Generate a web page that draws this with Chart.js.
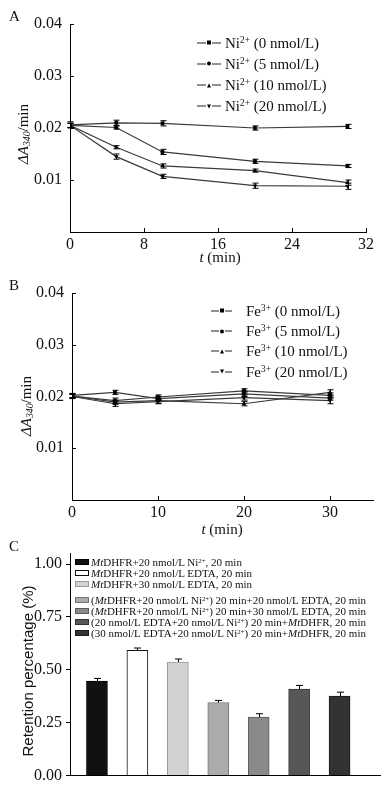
<!DOCTYPE html>
<html>
<head>
<meta charset="utf-8">
<script src="https://cdn.jsdelivr.net/npm/chart.js@4/dist/chart.umd.min.js"></script>
<style>
  body { margin: 0; width: 390px; height: 789px; position: relative; background: #fff; overflow: hidden;
         font-family: "Liberation Serif", serif; color: #111; }
  canvas { position: absolute; left: 0; }
  .txt { position: absolute; white-space: nowrap; line-height: 1; }
  .panel-label { font-size: 15px; }
  .xtitle { font-size: 15px; transform: translate(-50%, -50%); }
  .ytitle { font-size: 15px; transform: translate(-50%, -50%) rotate(-90deg); }
  .ytitle.sans { font-family: "Liberation Sans", sans-serif; font-size: 15px; }
  sup { font-size: 0.62em; vertical-align: 0.45em; line-height: 0; }
  sub { font-size: 0.65em; vertical-align: -0.25em; line-height: 0; }
  .legend { position: absolute; }
  .legend .row { position: absolute; left: 0; display: flex; align-items: center; white-space: nowrap; transform: translateY(-50%); }
  .sym { display: inline-flex; align-items: center; }
  .dash { display: inline-block; height: 1px; background: #222; }
  .mk { display: inline-block; margin: 0 1px; }
  .mk.rect { width: 4px; height: 4px; background: #000; }
  .mk.circle { width: 4px; height: 4px; border-radius: 50%; background: #000; }
  .mk.triangle { width: 0; height: 0; border-left: 2.5px solid transparent; border-right: 2.5px solid transparent; border-bottom: 4px solid #000; }
  .mk.tridown { width: 0; height: 0; border-left: 2.5px solid transparent; border-right: 2.5px solid transparent; border-top: 4px solid #000; }
  .lineleg { font-size: 15px; }
  .barleg { font-size: 11px; }
  .box { display: inline-block; width: 12px; height: 4px; border: 1px solid #333; margin-right: 2px; }
</style>
</head>
<body>
<canvas id="chartA" width="390" height="262" style="top:0"></canvas>
<canvas id="chartB" width="390" height="278" style="top:262px"></canvas>
<canvas id="chartC" width="390" height="249" style="top:540px"></canvas>

<div class="txt panel-label" style="left:9px;top:9px">A</div>
<div class="txt panel-label" style="left:9px;top:278px">B</div>
<div class="txt panel-label" style="left:9px;top:539px">C</div>

<div class="txt ytitle" style="left:23px;top:134px"><i>&Delta;A</i><sub><i>340</i></sub>/min</div>
<div class="txt ytitle" style="left:26px;top:406px"><i>&Delta;A</i><sub><i>340</i></sub>/min</div>
<div class="txt ytitle sans" style="left:27px;top:671px">Retention percentage (%)</div>

<div class="txt xtitle" style="left:220px;top:257px"><i>t</i> (min)</div>
<div class="txt xtitle" style="left:222px;top:529px"><i>t</i> (min)</div>

<div id="legendA" class="legend lineleg" style="left:197px;top:0"></div>
<div id="legendB" class="legend lineleg" style="left:211px;top:0"></div>
<div id="legendC" class="legend barleg" style="left:75px;top:0"></div>

<script>
// ---- Panel A: Ni2+ ----
const timesA = [0, 5, 10, 20, 30];
const ni0 = [0.0206, 0.0210, 0.0209, 0.0200, 0.0203];
const ni5 = [0.0205, 0.0201, 0.0154, 0.0136, 0.0127];
const ni10 = [0.0205, 0.0163, 0.0127, 0.0118, 0.0095];
const ni20 = [0.0205, 0.0145, 0.0107, 0.0089, 0.0088];
const ni0Err = [0.0006, 0.0005, 0.0005, 0.0004, 0.0004];
const ni5Err = [0.0004, 0.0003, 0.0005, 0.0004, 0.0003];
const ni10Err = [0.0004, 0.0003, 0.0004, 0.0003, 0.0005];
const ni20Err = [0.0004, 0.0005, 0.0004, 0.0005, 0.0006];
const legendA = ["Ni<sup>2+</sup> (0 nmol/L)", "Ni<sup>2+</sup> (5 nmol/L)", "Ni<sup>2+</sup> (10 nmol/L)", "Ni<sup>2+</sup> (20 nmol/L)"];
const xTicksA = [0, 8, 16, 24, 32];

// ---- Panel B: Fe3+ ----
const timesB = [0, 5, 10, 20, 30];
const fe0 = [0.0202, 0.0208, 0.0196, 0.0205, 0.0197];
const fe5 = [0.0201, 0.0192, 0.0199, 0.0211, 0.0202];
const fe10 = [0.0201, 0.0189, 0.0192, 0.0186, 0.0208];
const fe20 = [0.0200, 0.0186, 0.0190, 0.0198, 0.0192];
const fe0Err = [0.0004, 0.0004, 0.0004, 0.0005, 0.0004];
const fe5Err = [0.0004, 0.0005, 0.0004, 0.0004, 0.0005];
const fe10Err = [0.0004, 0.0004, 0.0005, 0.0004, 0.0005];
const fe20Err = [0.0004, 0.0005, 0.0004, 0.0005, 0.0006];
const legendB = ["Fe<sup>3+</sup> (0 nmol/L)", "Fe<sup>3+</sup> (5 nmol/L)", "Fe<sup>3+</sup> (10 nmol/L)", "Fe<sup>3+</sup> (20 nmol/L)"];
const xTicksB = [0, 10, 20, 30];

const yTicksAB = [0.01, 0.02, 0.03, 0.04];
const markers = ["rect", "circle", "triangle", "tridown"];

// ---- Panel C: retention ----
const treatments = [
  "<i>Mt</i>DHFR+20 nmol/L Ni<sup>2+</sup>, 20 min",
  "<i>Mt</i>DHFR+20 nmol/L EDTA, 20 min",
  "<i>Mt</i>DHFR+30 nmol/L EDTA, 20 min",
  "(<i>Mt</i>DHFR+20 nmol/L Ni<sup>2+</sup>) 20 min+20 nmol/L EDTA, 20 min",
  "(<i>Mt</i>DHFR+20 nmol/L Ni<sup>2+</sup>) 20 min+30 nmol/L EDTA, 20 min",
  "(20 nmol/L EDTA+20 nmol/L Ni<sup>2+</sup>) 20 min+<i>Mt</i>DHFR, 20 min",
  "(30 nmol/L EDTA+20 nmol/L Ni<sup>2+</sup>) 20 min+<i>Mt</i>DHFR, 20 min"
];
const retention = [0.447, 0.592, 0.537, 0.345, 0.276, 0.409, 0.375];
const retentionErr = [0.012, 0.011, 0.014, 0.010, 0.016, 0.017, 0.019];
const yTicksC = [0, 0.25, 0.5, 0.75, 1.0];

const barFill = ["#111111", "#ffffff", "#d2d2d2", "#ababab", "#8a8a8a", "#575757", "#333333"];
const barEdge = ["#000000", "#111111", "#9a9a9a", "#777777", "#5a5a5a", "#333333", "#1a1a1a"];

Chart.defaults.font.family = "Liberation Serif";
const tickFont = { family: "Liberation Serif", size: 16 };

// error bars drawn through the y scale
const errorBars = {
  id: "errorBars",
  afterDatasetsDraw(chart) {
    const ctx = chart.ctx;
    const ys = chart.scales.y;
    ctx.save();
    ctx.strokeStyle = "#000";
    ctx.lineWidth = 1;
    chart.data.datasets.forEach((ds, i) => {
      if (!ds.errors) return;
      const meta = chart.getDatasetMeta(i);
      meta.data.forEach((el, j) => {
        const v = typeof ds.data[j] === "object" ? ds.data[j].y : ds.data[j];
        const e = ds.errors[j];
        const x = Math.round(el.x) + 0.5;
        const top = ys.getPixelForValue(v + e);
        const bot = ds.upperOnly ? ys.getPixelForValue(v) : ys.getPixelForValue(v - e);
        const cap = ds.capWidth || 3;
        ctx.beginPath();
        ctx.moveTo(x, top); ctx.lineTo(x, bot);
        ctx.moveTo(x - cap, top); ctx.lineTo(x + cap, top);
        if (!ds.upperOnly) { ctx.moveTo(x - cap, bot); ctx.lineTo(x + cap, bot); }
        ctx.stroke();
      });
    });
    ctx.restore();
  }
};

// small ticks pointing into the plot
const innerTicks = {
  id: "innerTicks",
  afterDraw(chart) {
    const { ctx, chartArea } = chart;
    const xs = chart.scales.x, ys = chart.scales.y;
    ctx.save();
    ctx.strokeStyle = "#000";
    ctx.lineWidth = 1;
    ctx.beginPath();
    xs.ticks.forEach(t => {
      if (t.value === xs.min) return;
      const px = Math.round(xs.getPixelForValue(t.value)) + 0.5;
      ctx.moveTo(px, chartArea.bottom); ctx.lineTo(px, chartArea.bottom - 4);
    });
    ys.ticks.forEach(t => {
      if (t.value === ys.min) return;
      const py = Math.round(ys.getPixelForValue(t.value)) + 0.5;
      ctx.moveTo(chartArea.left, py); ctx.lineTo(chartArea.left + 4, py);
    });
    ctx.stroke();
    ctx.restore();
  }
};

function lineDatasets(times, series, errs) {
  return series.map((vals, i) => ({
    data: times.map((t, j) => ({ x: t, y: vals[j] })),
    errors: errs[i],
    borderColor: "#3a3a3a",
    borderWidth: 1.2,
    pointStyle: markers[i] === "tridown" ? "triangle" : markers[i],
    rotation: markers[i] === "tridown" ? 180 : 0,
    pointRadius: markers[i] === "circle" ? 2.2 : 2.6,
    pointBackgroundColor: "#000",
    pointBorderColor: "#000",
    pointBorderWidth: 0,
    tension: 0,
    capWidth: 3
  }));
}

function lineOptions(cfg) {
  return {
    responsive: false,
    animation: false,
    layout: { padding: { top: cfg.top, right: cfg.right, left: 0, bottom: 0 } },
    plugins: { legend: { display: false }, tooltip: { enabled: false } },
    scales: {
      x: {
        type: "linear", min: cfg.xMin, max: cfg.xMax,
        afterFit: s => { s.height = cfg.xHeight; },
        afterBuildTicks: s => { s.ticks = cfg.xTicks.map(v => ({ value: v })); },
        grid: { display: false, drawTicks: false },
        border: { display: true, color: "#000", width: 1 },
        ticks: { padding: 3, color: "#111", font: tickFont, callback: v => String(v) }
      },
      y: {
        min: 0, max: 0.04,
        afterFit: s => { s.width = cfg.yWidth; },
        afterBuildTicks: s => { s.ticks = yTicksAB.map(v => ({ value: v })); },
        grid: { display: false, drawTicks: false },
        border: { display: true, color: "#000", width: 1 },
        ticks: { padding: 8, color: "#111", font: tickFont, callback: v => v.toFixed(2) }
      }
    }
  };
}

new Chart(document.getElementById("chartA"), {
  type: "line",
  data: { datasets: lineDatasets(timesA, [ni0, ni5, ni10, ni20], [ni0Err, ni5Err, ni10Err, ni20Err]) },
  options: lineOptions({ top: 24, right: 24, xHeight: 30, yWidth: 70, xMin: 0, xMax: 32, xTicks: xTicksA }),
  plugins: [errorBars, innerTicks]
});

new Chart(document.getElementById("chartB"), {
  type: "line",
  data: { datasets: lineDatasets(timesB, [fe0, fe5, fe10, fe20], [fe0Err, fe5Err, fe10Err, fe20Err]) },
  options: lineOptions({ top: 31, right: 17, xHeight: 40, yWidth: 72, xMin: 0, xMax: 35, xTicks: xTicksB }),
  plugins: [errorBars, innerTicks]
});

new Chart(document.getElementById("chartC"), {
  type: "bar",
  data: {
    datasets: [{
      data: retention.map((v, i) => ({ x: i + 1, y: v })),
      errors: retentionErr,
      upperOnly: true,
      capWidth: 3.5,
      backgroundColor: barFill,
      borderColor: barEdge,
      borderWidth: 1,
      barThickness: 21
    }]
  },
  options: {
    responsive: false,
    animation: false,
    layout: { padding: { top: 10, right: 10, left: 0, bottom: 0 } },
    plugins: { legend: { display: false }, tooltip: { enabled: false } },
    scales: {
      x: {
        type: "linear", min: 1 / 3, max: 8, offset: false,
        afterFit: s => { s.height = 10.3; },
        grid: { display: false, drawTicks: false, offset: false },
        border: { display: true, color: "#000", width: 1 },
        ticks: { display: false }
      },
      y: {
        min: 0, max: 1.05,
        afterFit: s => { s.width = 70; },
        afterBuildTicks: s => { s.ticks = yTicksC.map(v => ({ value: v })); },
        grid: { drawOnChartArea: false, drawTicks: true, tickLength: 4, color: "#000" },
        border: { display: true, color: "#000", width: 1 },
        ticks: { padding: 4, color: "#111", font: tickFont, callback: v => v.toFixed(2) }
      }
    }
  },
  plugins: [errorBars]
});

// ---- HTML legends (rich text: italics, superscripts) ----
function symbolHtml(m, dashW) {
  return `<span class="sym"><i class="dash" style="width:${dashW}px"></i><b class="mk ${m}"></b><i class="dash" style="width:${dashW}px"></i></span>`;
}
function buildLineLegend(el, labels, rowsY, dashW, gap) {
  el.innerHTML = labels.map((l, i) =>
    `<div class="row" style="top:${rowsY[i]}px">${symbolHtml(markers[i], dashW)}<span style="margin-left:${gap}px">${l}</span></div>`
  ).join("");
}
buildLineLegend(document.getElementById("legendA"), legendA, [42.5, 63.5, 85, 106], 9, 4);
buildLineLegend(document.getElementById("legendB"), legendB, [310.5, 331, 351, 371.5], 7.5, 14);

const rowsC = [561.5, 572.5, 583.5, 600, 611, 622, 633];
document.getElementById("legendC").innerHTML = treatments.map((l, i) =>
  `<div class="row" style="top:${rowsC[i]}px"><span class="box" style="background:${barFill[i]};border-color:${barEdge[i]}"></span><span>${l}</span></div>`
).join("");
</script>
</body>
</html>
